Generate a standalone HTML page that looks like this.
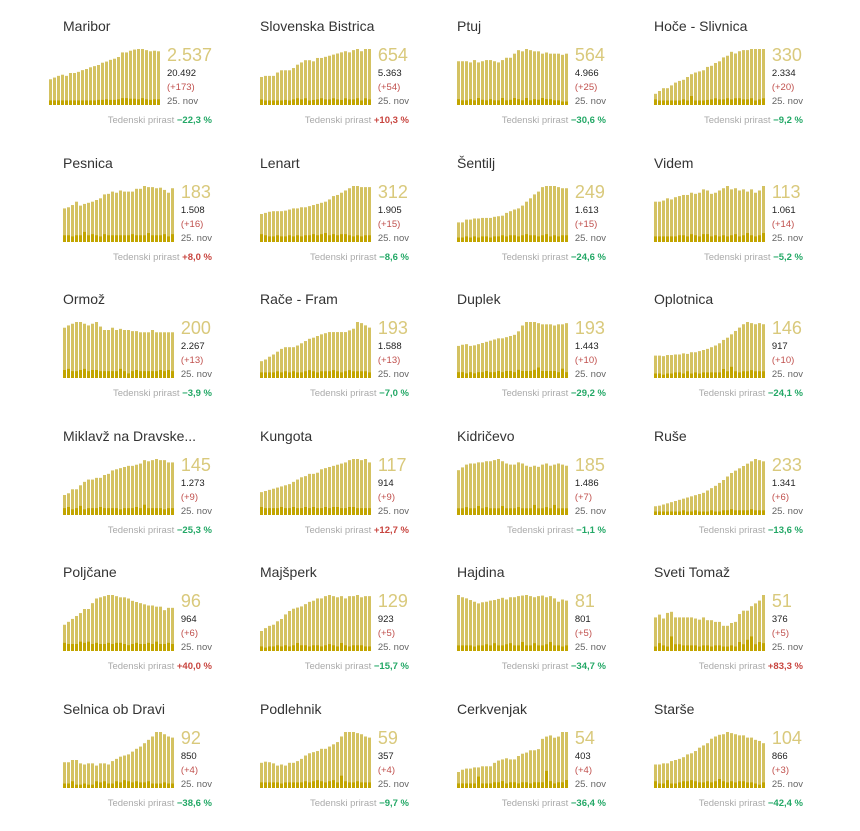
<!DOCTYPE html>
<html><head><meta charset="utf-8">
<style>
body{margin:0;background:#fff;width:860px;height:831px;overflow:hidden;font-family:"Liberation Sans",sans-serif;}
.panel{position:absolute;width:160px;height:120px;}
.title{position:absolute;left:11px;top:0;font-size:14px;color:#333;white-space:nowrap;line-height:18px;}
.chart{position:absolute;top:32px;}
.txt{position:absolute;top:26px;right:0;}
.big{font-size:18px;color:#d9c97c;line-height:24px;}
.l{font-size:9.5px;line-height:14px;white-space:nowrap;}
.cum{color:#222;}
.dl{color:#c0504d;}
.dt{color:#666;}
.wk{position:absolute;right:0;top:97px;font-size:9.5px;color:#aaa;white-space:nowrap;line-height:14px;}
.wk b{font-weight:bold;}
</style></head><body>
<div id="grid"></div>
<script>
const names=["Maribor","Slovenska Bistrica","Ptuj","Hoče - Slivnica","Pesnica","Lenart","Šentilj","Videm","Ormož","Rače - Fram","Duplek","Oplotnica","Miklavž na Dravske...","Kungota","Kidričevo","Ruše","Poljčane","Majšperk","Hajdina","Sveti Tomaž","Selnica ob Dravi","Podlehnik","Cerkvenjak","Starše"];
const active=["2.537","654","564","330","183","312","249","113","200","193","193","146","145","117","185","233","96","129","81","51","92","59","54","104"];
const cumulative=["20.492","5.363","4.966","2.334","1.508","1.905","1.613","1.061","2.267","1.588","1.443","917","1.273","914","1.486","1.341","964","923","801","376","850","357","403","866"];
const deltas=["(+173)","(+54)","(+25)","(+20)","(+16)","(+15)","(+15)","(+14)","(+13)","(+13)","(+10)","(+10)","(+9)","(+9)","(+7)","(+6)","(+6)","(+5)","(+5)","(+5)","(+4)","(+4)","(+4)","(+3)"];
const weekly=["−22,3 %","+10,3 %","−30,6 %","−9,2 %","+8,0 %","−8,6 %","−24,6 %","−5,2 %","−3,9 %","−7,0 %","−29,2 %","−24,1 %","−25,3 %","+12,7 %","−1,1 %","−13,6 %","+40,0 %","−15,7 %","−34,7 %","+83,3 %","−38,6 %","−9,7 %","−36,4 %","−42,4 %"];
const trend=[
[45,48,51,53,51,56,56,58,61,63,66,68,70,74,76,79,81,84,92,92,95,97,98,98,96,94,95,94],
[50,52,52,52,58,62,62,62,66,72,76,80,80,78,84,84,86,88,90,92,94,96,94,98,100,96,100,100],
[75,75,75,73,77,73,75,77,77,75,73,77,81,81,88,94,92,96,94,92,92,88,90,88,88,88,86,88],
[20,25,30,30,35,40,43,45,50,55,58,60,62,68,70,75,78,85,88,95,92,96,98,98,100,100,100,100],
[60,62,66,72,65,68,70,72,75,78,85,86,90,88,92,90,90,90,95,95,100,98,98,96,97,93,88,96],
[50,52,54,55,55,55,56,58,60,60,62,62,64,66,68,70,72,76,82,84,88,92,96,100,100,98,98,98],
[35,35,40,40,42,42,43,43,43,45,46,47,52,55,58,60,65,72,78,85,90,98,100,100,100,98,96,96],
[72,72,74,78,76,80,82,84,84,88,86,88,94,92,86,88,92,96,100,94,96,92,94,90,94,88,92,100],
[88,92,95,98,98,95,92,95,98,90,84,84,88,84,86,84,84,82,82,80,80,80,84,80,80,80,80,80],
[30,33,38,42,47,52,55,55,55,58,62,66,70,72,75,78,80,82,82,82,82,82,85,88,100,98,94,90],
[55,57,58,55,56,58,60,62,64,66,68,68,70,72,74,80,90,96,96,96,94,92,92,92,90,92,92,94],
[40,40,39,41,41,42,42,44,43,46,46,48,50,52,55,58,62,68,72,78,84,90,96,100,98,96,98,96],
[35,38,45,45,52,58,62,62,65,65,70,72,78,80,82,84,86,86,88,90,96,94,96,98,96,96,92,92],
[40,42,44,46,48,50,52,54,58,62,66,68,72,72,74,80,82,84,86,88,90,92,96,98,98,96,98,92],
[80,85,90,92,92,94,94,96,96,98,100,96,92,90,90,94,92,88,86,88,86,90,92,88,90,92,90,88],
[15,16,18,20,22,24,26,28,30,32,34,36,38,42,46,50,55,60,66,72,76,80,84,88,92,96,94,92],
[45,50,55,60,65,72,72,82,90,92,94,96,96,94,92,92,90,86,84,82,80,78,78,76,76,70,74,74],
[35,40,44,46,52,56,64,70,74,76,78,82,86,88,92,92,96,98,96,94,96,92,96,96,98,94,96,96],
[100,96,94,91,88,85,87,88,90,91,93,95,92,96,96,98,99,100,98,96,98,99,96,98,94,88,92,90],
[60,65,58,68,70,60,60,60,60,60,58,56,60,55,55,52,52,45,45,50,52,66,72,72,80,85,90,100],
[46,46,50,50,44,42,44,44,40,44,44,42,48,52,56,58,60,65,70,74,80,86,92,100,100,96,92,90],
[45,47,46,44,40,42,40,45,45,48,52,58,62,64,66,70,70,74,78,82,92,100,100,100,98,96,92,90],
[28,32,34,34,36,36,38,38,38,44,48,50,52,50,50,56,60,62,66,66,68,86,90,92,88,90,98,98],
[42,42,44,44,48,50,52,55,60,62,66,72,76,80,88,92,95,96,100,98,96,94,94,90,90,86,84,80]];
const daily=[
[8,8,8,8,8,8,8,8,8,8,8,8,9,9,10,9,9,10,12,12,11,11,10,12,10,9,10,10],
[10,8,8,8,8,8,9,8,10,12,10,12,8,9,10,12,10,10,12,10,9,12,10,10,12,8,12,10],
[10,8,8,10,8,12,9,8,10,8,8,12,8,9,12,10,8,12,8,10,9,12,10,10,8,8,6,6],
[10,8,8,8,8,8,8,10,8,16,8,8,8,9,10,12,10,10,12,10,12,12,10,10,12,8,10,12],
[12,12,10,12,12,18,12,14,12,10,14,12,12,12,12,12,12,14,12,12,12,16,12,12,12,14,10,14],
[14,12,10,10,12,10,10,12,10,12,10,12,12,14,12,14,16,12,14,12,14,14,12,10,12,10,12,12],
[8,8,10,8,10,8,10,10,8,10,10,12,10,12,12,10,12,14,12,12,10,12,14,10,12,10,12,12],
[10,10,10,10,10,10,12,12,10,14,12,10,14,14,10,12,10,12,10,12,14,10,12,16,12,10,12,16],
[14,16,12,12,14,16,12,14,14,12,12,12,12,12,16,12,8,12,14,12,12,12,12,12,14,12,14,12],
[10,10,10,10,12,10,12,10,12,10,10,12,14,12,10,12,12,12,14,12,10,12,14,12,12,12,12,10],
[10,10,8,10,8,10,10,12,10,10,12,10,12,12,10,14,12,12,12,14,18,12,12,12,12,10,16,10],
[8,8,6,8,8,10,10,8,12,8,10,8,10,10,10,10,10,16,12,20,12,10,12,12,14,12,12,12],
[12,14,10,12,16,10,12,12,12,14,12,12,12,12,10,12,12,12,14,12,18,12,12,12,12,10,12,12],
[14,12,12,12,12,14,12,12,14,12,12,14,12,14,12,12,14,12,14,14,12,12,14,14,12,12,12,12],
[12,12,14,12,12,16,12,14,12,12,12,16,12,12,12,14,12,12,12,18,12,12,14,12,18,12,12,12],
[6,6,6,6,6,6,6,8,6,6,8,6,6,6,8,6,6,8,8,10,8,8,8,8,10,8,8,8],
[14,12,12,12,16,14,16,12,14,12,12,14,12,14,14,12,10,12,14,12,12,14,12,16,12,12,14,12],
[8,6,8,8,10,8,10,8,10,14,10,10,8,10,10,8,10,12,10,8,14,10,8,10,10,10,8,8],
[10,10,10,10,8,10,10,12,10,14,10,10,12,14,10,10,16,10,10,14,10,10,12,16,10,10,8,10],
[8,14,10,8,26,12,12,10,10,10,10,8,10,10,8,10,10,8,8,10,8,16,12,20,26,12,16,14],
[8,8,12,6,6,8,6,6,12,10,12,8,8,12,10,14,12,10,12,10,10,12,8,8,8,10,8,8],
[10,10,10,10,10,8,10,10,10,10,10,12,10,12,14,12,10,12,14,10,22,12,10,10,12,10,10,10],
[8,8,8,8,8,20,8,8,8,10,10,12,8,10,10,8,10,10,8,10,10,10,30,12,8,10,10,14],
[12,8,8,14,8,8,10,12,12,14,12,10,10,12,10,12,16,12,10,12,10,12,12,10,10,8,6,10]];

const grid=document.getElementById('grid');
const colX=i=>52+197*i, rowY=r=>17+136.6*r;
const chartW=112, chartH=56, pitch=4, barW=3;
const yScale=(v,max)=>v/max*chartH;
names.forEach((nm,i)=>{
  const c=i%4, r=Math.floor(i/4);
  const p=document.createElement('div');
  p.className='panel';
  
  
  p.style.left=colX(c)+'px'; p.style.top=rowY(r)+'px';
  const t=document.createElement('div');
  t.className='title';
  
  
  t.textContent=nm; p.appendChild(t);
  const tx=document.createElement('div');
  tx.className='txt';
  
  
  tx.innerHTML='<div class="big">'+active[i]+'</div><div class="l cum">'+cumulative[i]+'</div><div class="l dl">'+deltas[i]+'</div><div class="l dt">25. nov</div>';
  p.appendChild(tx);
  const wk=document.createElement('div');
  wk.className='wk';
  
  
  const pos=weekly[i][0]==='+';
  wk.innerHTML='Tedenski prirast <b style="color:'+(pos?'#c8453f':'#23a866')+'">'+weekly[i]+'</b>';
  p.appendChild(wk);
  grid.appendChild(p);
  const tw=tx.getBoundingClientRect().width;
  const ns='http://www.w3.org/2000/svg';
  const svg=document.createElementNS(ns,'svg');
  
  
  svg.setAttribute('width',chartW); svg.setAttribute('height',chartH);
  svg.setAttribute('class','chart');
  svg.style.left=(160-tw-6-chartW)+'px';
  const data=trend[i], d2=daily[i];
  const mx=Math.max(...data);
  data.forEach((v,k)=>{
    const h=yScale(v,mx);
    const b=document.createElementNS(ns,'rect');
    
    
    b.setAttribute('x',k*pitch); b.setAttribute('width',barW);
    b.setAttribute('y',chartH-h); b.setAttribute('height',h);
    b.setAttribute('fill','#d4c262');
    svg.appendChild(b);
    const h2=yScale(d2[k],mx);
    const b2=document.createElementNS(ns,'rect');
    
    
    b2.setAttribute('x',k*pitch); b2.setAttribute('width',barW);
    b2.setAttribute('y',chartH-h2); b2.setAttribute('height',h2);
    b2.setAttribute('fill','#c2a500');
    svg.appendChild(b2);
  });
  p.appendChild(svg);
});
</script>
</body></html>
